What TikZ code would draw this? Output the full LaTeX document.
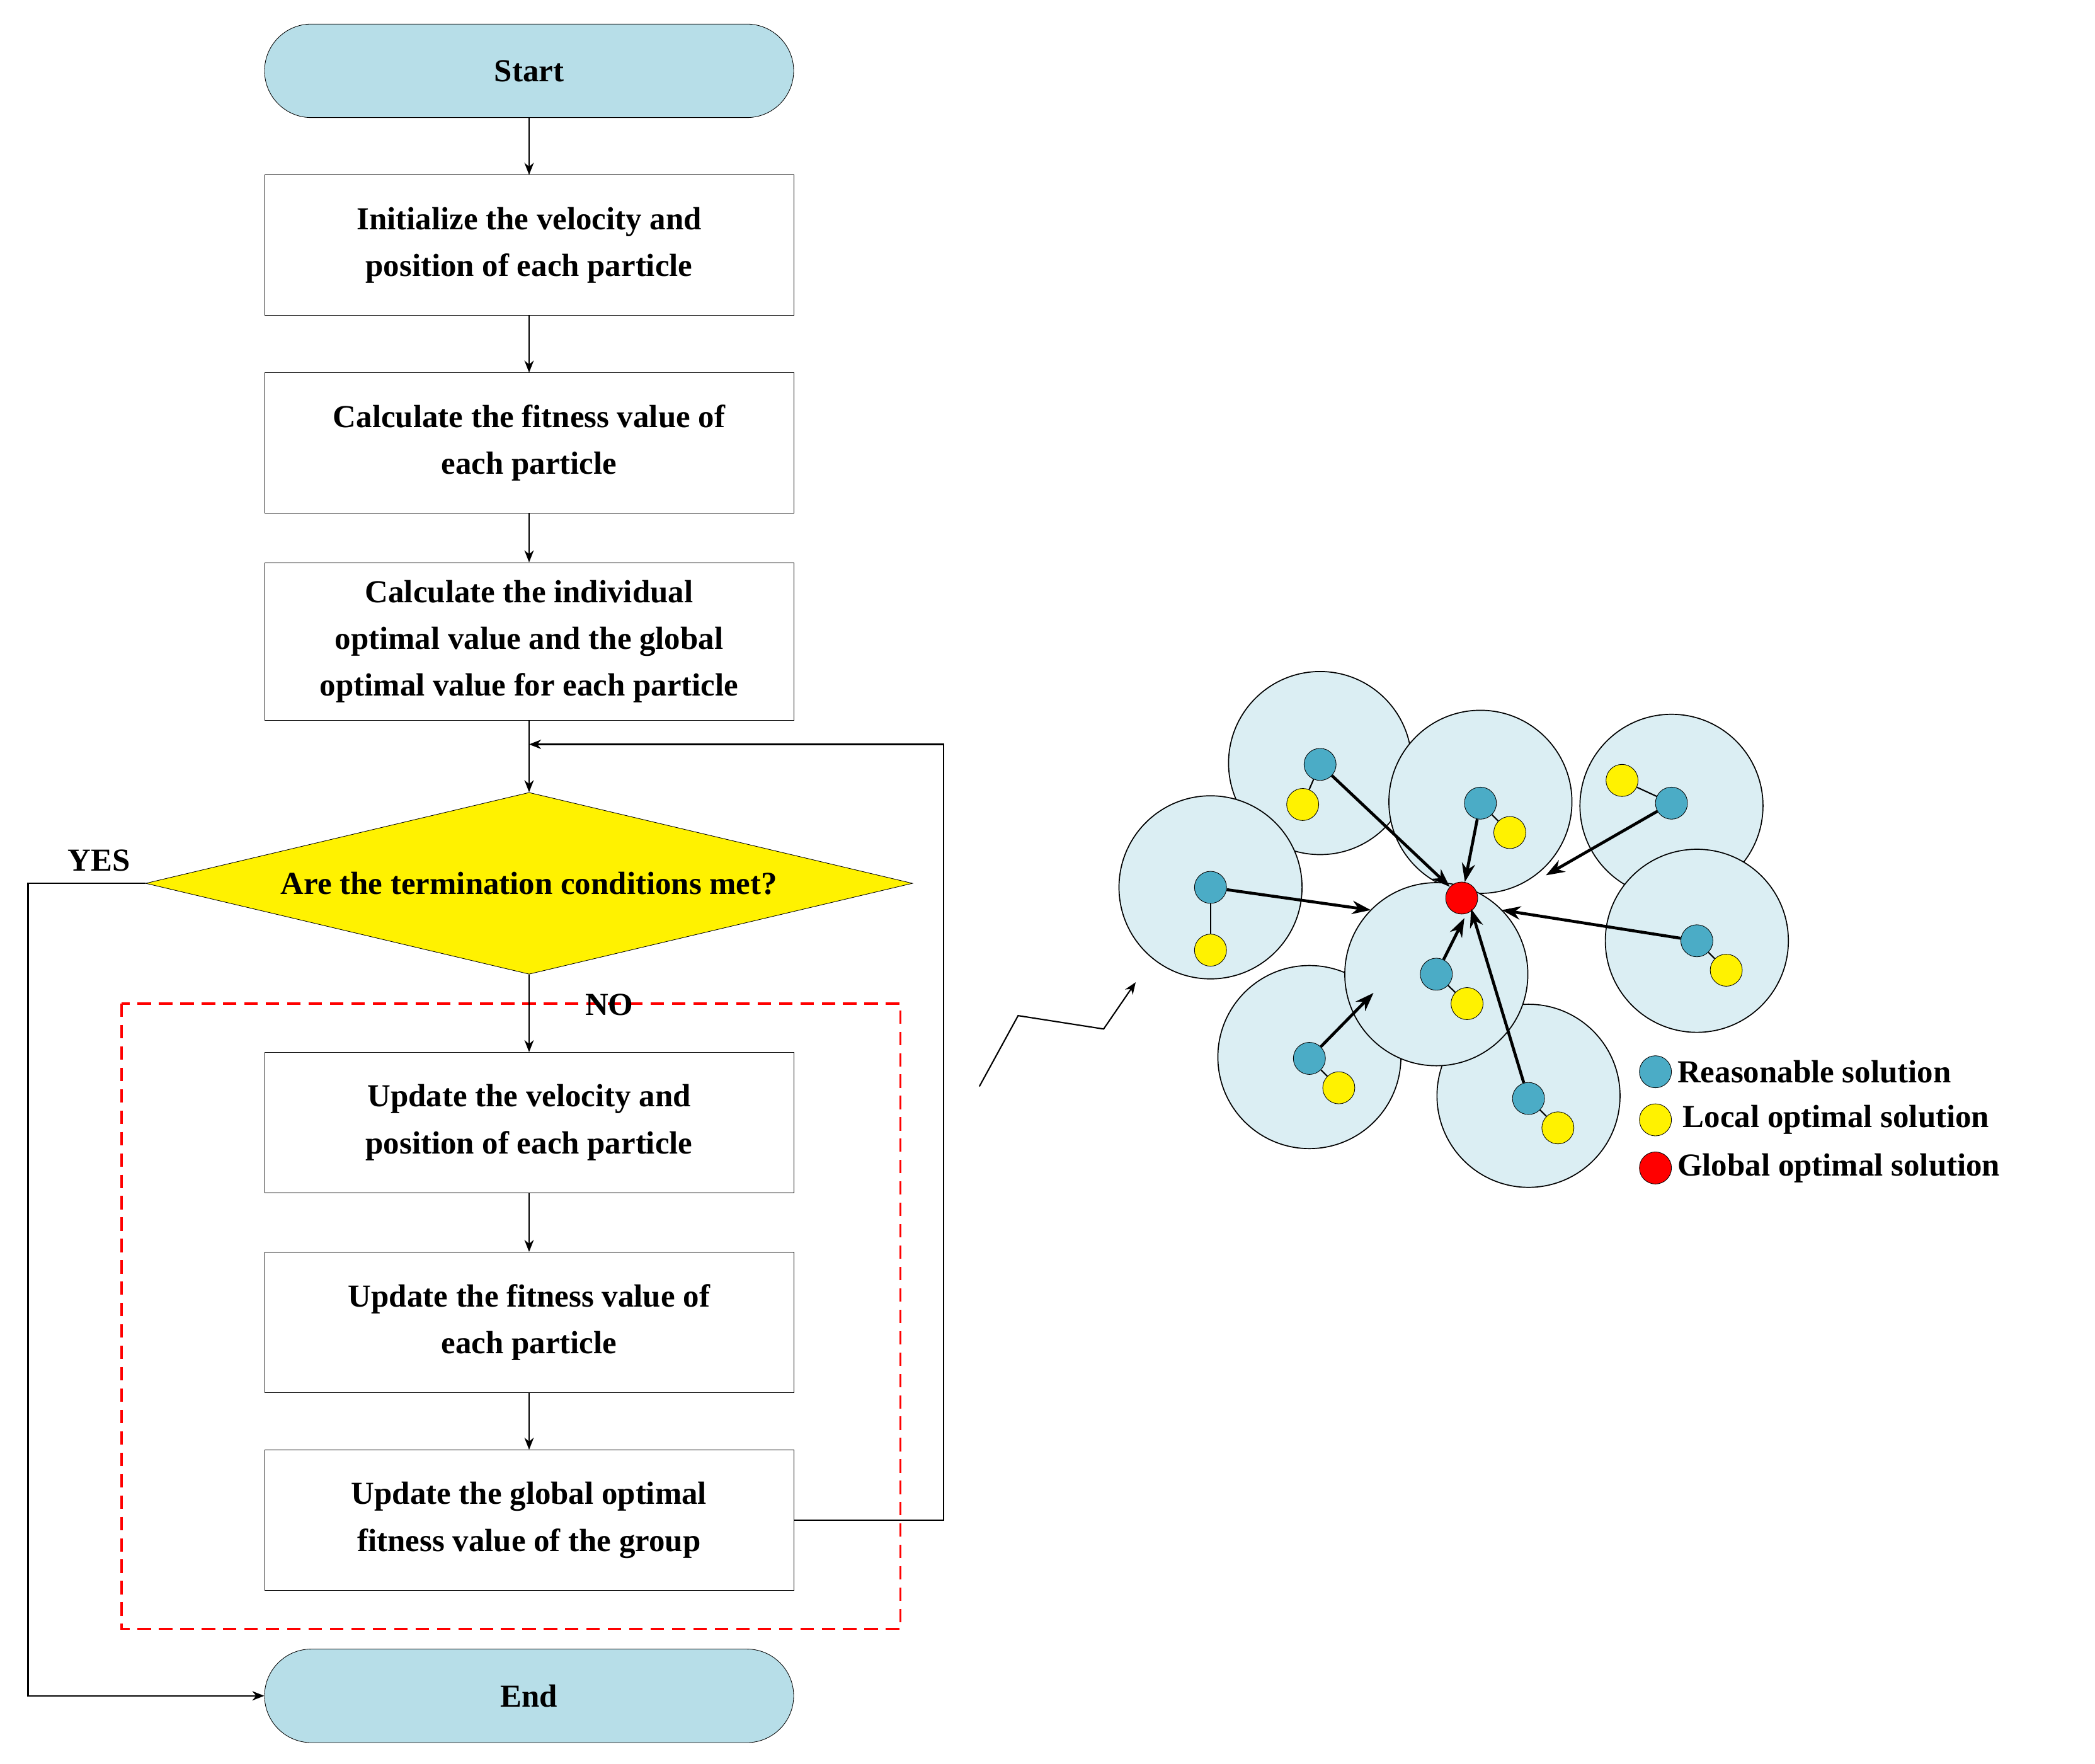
\documentclass[tikz,border=0pt]{standalone}
\usepackage{fontspec}
\setmainfont{Liberation Serif}
\usetikzlibrary{shapes.geometric,arrows.meta}
\definecolor{term}{HTML}{B7DEE8}
\definecolor{zone}{HTML}{DBEEF3}
\definecolor{dotb}{HTML}{4BACC6}
\begin{document}
\begin{tikzpicture}[x=1pt,y=-1pt,
  box/.style={draw,minimum width=396pt,minimum height=105pt,align=center,font=\fontsize{24}{35}\selectfont\bfseries},
  term/.style={box,rounded corners=35pt,fill=term,minimum height=70pt},
  ar/.style={-{Stealth[length=9pt,width=7pt]},line width=1pt},
  arb/.style={-{Stealth[length=14pt,width=10pt]},line width=2.2pt},
  zone/.style={draw,fill=zone,line width=0.8pt},
  bd/.style={circle,draw,fill=dotb,minimum size=24pt,inner sep=0pt},
  yd/.style={circle,draw,fill=yellow,minimum size=24pt,inner sep=0pt},
  lab/.style={font=\fontsize{24}{28}\selectfont\bfseries}]
\useasboundingbox (0,0) rectangle (1568,1320);
\node[term] (s) at (396,53) {Start};
\node[box] (b1) at (396,183.5) {Initialize the velocity and\\position of each particle};
\node[box] (b2) at (396,331.5) {Calculate the fitness value of\\each particle};
\node[box,minimum height=118pt] (b3) at (396,480) {Calculate the individual\\optimal value and the global\\optimal value for each particle};
\node[diamond,draw,fill=yellow,minimum width=574pt,minimum height=136pt,aspect=4.2,inner sep=0pt,lab] (d) at (396,661) {Are the termination conditions met?};
\draw[red,dashed,line width=1.5pt,dash pattern=on 10pt off 6pt] (91,751) rectangle (674,1219);
\node[box] (b4) at (396,840) {Update the velocity and\\position of each particle};
\node[box] (b5) at (396,989.5) {Update the fitness value of\\each particle};
\node[box] (b6) at (396,1137.5) {Update the global optimal\\fitness value of the group};
\node[term] (e) at (396,1269) {End};
\draw[ar] (s) -- (b1);
\draw[ar] (b1) -- (b2);
\draw[ar] (b2) -- (b3);
\draw[ar] (b3) -- (d);
\draw[ar] (d) -- (b4);
\draw[ar] (b4) -- (b5);
\draw[ar] (b5) -- (b6);
\coordinate (lp) at (396,557);
\draw[ar] (b6.east) -- (706,1137.5) -- (706,557) -- (lp);
\draw[ar] (d.west) -- (21,661) -- (21,1269) -- (e.west);
\node[lab] (yes) at (74,644) {YES};
\node[lab] (no) at (456,752) {NO};
\coordinate (z1) at (733,813); \coordinate (z4) at (850,735);
\draw[ar] (z1) -- (762,760) -- (826,770) -- (z4);
% zones
\foreach \x/\y in {988/571,1108/600,1251/603,906/664,1270/704,980/791,1144/820,1075/729}
  \draw[zone] (\x,\y) circle (68.5pt);
\node[circle,draw,fill=red,minimum size=24pt,inner sep=0pt] (r) at (1094,672) {};
\foreach \n/\bx/\by/\yx/\yy in {a/988/572/975/602, b/1108/601/1130/623, c/1251/601/1214/584, d/906/664/906/711, e/1075/729/1098/751, f/1270/704/1292/726, g/980/792/1002/814, h/1144/822/1166/844}{
  \node[bd] (p\n) at (\bx,\by) {};
  \node[yd] (q\n) at (\yx,\yy) {};
  \draw[line width=1pt] (p\n) -- (q\n);
}
\coordinate (tc) at (1157,655); \coordinate (td) at (1026,681);
\coordinate (te) at (1096,687); \coordinate (tg) at (1028,743);
\coordinate (th) at (1101,680); \coordinate (tf) at (1124,681);
\draw[arb] (pa) -- (r);
\draw[arb] (pb) -- (r);
\draw[arb] (pc) -- (tc);
\draw[arb] (pd) -- (td);
\draw[arb] (pe) -- (te);
\draw[arb] (pg) -- (tg);
\draw[arb] (ph) -- (th);
\draw[arb] (pf) -- (tf);
% legend
\node[bd] (l1) at (1239,802) {}; \node[lab,anchor=west] (t1) at (1252,802) {Reasonable solution};
\node[yd] (l2) at (1239,838) {}; \node[lab,anchor=west] (t2) at (1256,838) {Local optimal solution};
\node[circle,draw,fill=red,minimum size=24pt,inner sep=0pt] (l3) at (1239,874) {}; \node[lab,anchor=west] (t3) at (1252,874) {Global optimal solution};
\end{tikzpicture}
\end{document}
